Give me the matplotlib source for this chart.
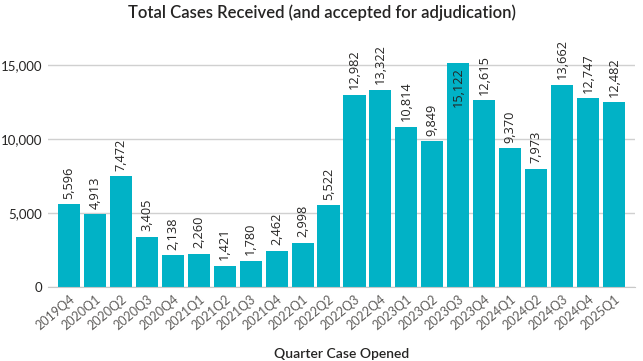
import matplotlib.pyplot as plt
import numpy as np

quarters = ["2019Q4", "2020Q1", "2020Q2", "2020Q3", "2020Q4", "2021Q1", "2021Q2",
            "2021Q3", "2021Q4", "2022Q1", "2022Q2", "2022Q3", "2022Q4", "2023Q1",
            "2023Q2", "2023Q3", "2023Q4", "2024Q1", "2024Q2", "2024Q3", "2024Q4", "2025Q1"]
cases = [5596, 4913, 7472, 3405, 2138, 2260, 1421, 1780, 2462, 2998, 5522,
         12982, 13322, 10814, 9849, 15122, 12615, 9370, 7973, 13662, 12747, 12482]

bar_color = "#01B2C6"

fig = plt.figure(figsize=(6.43, 3.61), dpi=100)
ax = fig.add_axes([48 / 643, 1 - 287 / 361, (635 - 48) / 643, (287 - 28) / 361])

x = np.arange(len(quarters))
ax.bar(x, cases, width=0.85, color=bar_color, zorder=2)

# labels above the bars, the tallest one goes inside
for xi, v in zip(x, cases):
    label = f"{v:,}"
    if v > 14500:
        ax.annotate(label, (xi, v), xytext=(0, -3), textcoords="offset points",
                    rotation=90, ha="center", va="top", fontsize=9.2,
                    fontfamily="Open Sans", color="#252423")
    else:
        ax.annotate(label, (xi, v), xytext=(0, 4), textcoords="offset points",
                    rotation=90, ha="center", va="bottom", fontsize=9.2,
                    fontfamily="Open Sans", color="#252423")

ax.set_xlim(-0.81, len(quarters) - 0.19)
ax.set_ylim(0, 17500)
ax.set_yticks([0, 5000, 10000, 15000])
ax.set_yticklabels(["0", "5,000", "10,000", "15,000"], fontfamily="Lato", fontsize=9.5, color="#252423")
ax.set_xticks(x)
ax.set_xticklabels(quarters, rotation=40, ha="right", rotation_mode="anchor",
                   fontfamily="Lato", fontsize=9, color="#605E5C")
ax.tick_params(length=0, pad=4)
ax.grid(axis="y", color="#D0D0D0", linewidth=1, zorder=0)
for s in ["top", "right", "left"]:
    ax.spines[s].set_visible(False)
ax.spines["bottom"].set_color("#C8C8C8")

ax.set_xlabel("Quarter Case Opened", fontfamily="Lato", fontsize=10, fontweight="semibold",
              color="#252423", labelpad=12)
fig.text(0.5, 0.965, "Total Cases Received (and accepted for adjudication)",
         ha="center", va="center", fontfamily="Lato", fontsize=12, fontweight="semibold",
         color="#252423")

fig.savefig("out.png", dpi=100)
